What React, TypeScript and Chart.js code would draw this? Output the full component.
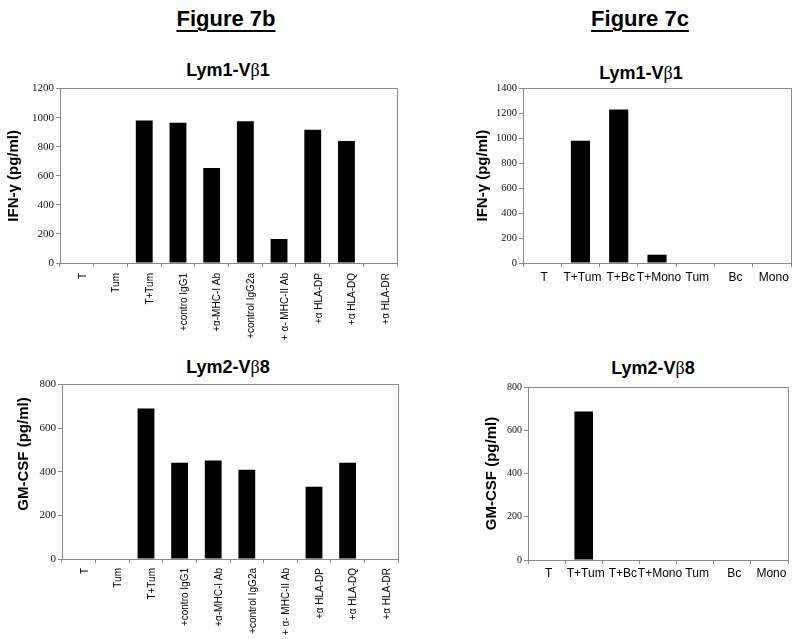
import React, { useEffect, useRef } from "react";
import { Chart, registerables } from "chart.js";

Chart.register(...registerables);

// ---- data ----
const labels7b = [
  "T",
  "Tum",
  "T+Tum",
  "+contro IgG1",
  "+α-MHC-I Ab",
  "+control IgG2a",
  "+ α- MHC-II Ab",
  "+α HLA-DP",
  "+α HLA-DQ",
  "+α HLA-DR",
];
const ifn7b = [0, 0, 981, 965, 654, 976, 165, 917, 839, 0];
const gm7b = [0, 0, 690, 441, 452, 409, 0, 331, 441, 0];

const labels7c = ["T", "T+Tum", "T+Bc", "T+Mono", "Tum", "Bc", "Mono"];
const ifn7c = [0, 979, 1230, 66, 0, 0, 0];
const gm7c = [0, 687, 0, 0, 0, 0, 0];

const yMaxIfn7b = 1200;
const yMaxIfn7c = 1400;
const yMaxGm = 800;
const yStep = 200;

const SANS = "'Liberation Sans', Arial, sans-serif";
const SERIF = "'Liberation Serif', 'Times New Roman', serif";
const AXIS = "#888888";

const framePlugin = {
  id: "frame",
  afterDraw(chart: any) {
    const { ctx, chartArea } = chart;
    const { left, top, right, bottom } = chartArea;
    const t = Math.floor(top) + 0.5;
    const r = Math.floor(right) + 0.5;
    ctx.save();
    ctx.strokeStyle = AXIS;
    ctx.lineWidth = 1;
    ctx.beginPath();
    ctx.moveTo(left, t);
    ctx.lineTo(r, t);
    ctx.lineTo(r, bottom);
    ctx.stroke();
    ctx.restore();
  },
};

type PanelProps = {
  labels: string[];
  values: number[];
  yMax: number;
  left: number;
  top: number;
  width: number;
  height: number;
  yWidth: number;
  xHeight: number;
  padTop: number;
  padRight: number;
  titlePad: number;
  yTitle: string;
  showYTitle: boolean;
  yTickSize: number;
  xTickSize: number;
  rotated: boolean;
  xPad: number;
  labelOffset: number;
};

function Panel(p: PanelProps) {
  const ref = useRef<HTMLCanvasElement>(null);
  useEffect(() => {
    const rot = p.rotated ? 90 : 0;
    const chart = new Chart(ref.current as HTMLCanvasElement, {
      type: "bar",
      data: {
        labels: p.labels,
        datasets: [
          {
            data: p.values,
            backgroundColor: "#000000",
            borderWidth: 0,
            barPercentage: 0.5,
            categoryPercentage: 1,
          },
        ],
      },
      options: {
        animation: false,
        responsive: true,
        maintainAspectRatio: false,
        layout: {
          padding: { top: p.padTop, right: p.padRight, left: 0, bottom: 0 },
        },
        plugins: {
          legend: { display: false },
          tooltip: { enabled: false },
          title: { display: false },
        },
        scales: {
          x: {
            grid: {
              display: true,
              drawOnChartArea: false,
              drawTicks: true,
              tickLength: 4,
              color: AXIS,
              offset: true,
            },
            border: { display: true, color: AXIS },
            ticks: {
              autoSkip: false,
              maxRotation: rot,
              minRotation: rot,
              color: "#000000",
              padding: p.xPad,
              labelOffset: p.labelOffset,
              font: { family: SANS, size: p.xTickSize },
            },
            afterFit: (s: any) => {
              s.height = p.xHeight;
            },
          },
          y: {
            min: 0,
            max: p.yMax,
            grid: {
              display: true,
              drawOnChartArea: false,
              drawTicks: true,
              tickLength: 4,
              color: AXIS,
            },
            border: { display: true, color: AXIS },
            ticks: {
              stepSize: yStep,
              color: "#111111",
              padding: 2,
              font: { family: SERIF, size: p.yTickSize },
              callback: (v: any) => String(v),
            },
            title: {
              display: p.showYTitle,
              text: p.yTitle,
              color: "#000000",
              font: { family: SANS, size: 15, weight: "bold" },
              padding: { top: p.titlePad, bottom: 0 },
            },
            afterFit: (s: any) => {
              s.width = p.yWidth;
            },
          },
        },
      } as any,
      plugins: [framePlugin],
    });
    return () => chart.destroy();
  }, []);
  return (
    <div
      style={{
        position: "absolute",
        left: p.left,
        top: p.top,
        width: p.width,
        height: p.height,
      }}
    >
      <canvas ref={ref} />
    </div>
  );
}

function Heading(props: {
  cx: number;
  top: number;
  size: number;
  underline?: boolean;
  children: React.ReactNode;
}) {
  return (
    <div
      style={{
        position: "absolute",
        left: props.cx - 150,
        top: props.top,
        width: 300,
        textAlign: "center",
        fontFamily: SANS,
        fontWeight: "bold",
        fontSize: props.size,
        lineHeight: `${props.size}px`,
        color: "#000",
        whiteSpace: "nowrap",
      }}
    >
      <span
        style={
          props.underline
            ? {
                textDecoration: "underline",
                textDecorationThickness: "2px",
                textUnderlineOffset: "4px",
              }
            : undefined
        }
      >
        {props.children}
      </span>
    </div>
  );
}

function VerticalTitle(props: { cx: number; cy: number; text: string }) {
  return (
    <div
      style={{
        position: "absolute",
        left: props.cx - 100,
        top: props.cy - 10,
        width: 200,
        height: 20,
        lineHeight: "20px",
        textAlign: "center",
        fontFamily: SANS,
        fontWeight: "bold",
        fontSize: 15,
        color: "#000",
        whiteSpace: "nowrap",
        transform: "rotate(-90deg)",
        transformOrigin: "50% 50%",
      }}
    >
      {props.text}
    </div>
  );
}

function Lym(props: { n: string; v: string }) {
  return (
    <>
      {"Lym" + props.n + "-V"}
      <span style={{ fontFamily: SERIF, fontWeight: "normal" }}>β</span>
      {props.v}
    </>
  );
}

export default function App() {
  return (
    <div
      style={{
        position: "absolute",
        left: 0,
        top: 0,
        width: 800,
        height: 639,
        background: "#ffffff",
        overflow: "hidden",
      }}
    >
      <Heading cx={226} top={8} size={22} underline>
        Figure 7b
      </Heading>
      <Heading cx={640} top={8} size={22} underline>
        Figure 7c
      </Heading>
      <Heading cx={228} top={61} size={18}>
        <Lym n="1" v="1" />
      </Heading>
      <Heading cx={641} top={64} size={18}>
        <Lym n="1" v="1" />
      </Heading>
      <Heading cx={228} top={358} size={18}>
        <Lym n="2" v="8" />
      </Heading>
      <Heading cx={653} top={359} size={18}>
        <Lym n="2" v="8" />
      </Heading>

      <Panel
        labels={labels7b}
        values={ifn7b}
        yMax={yMaxIfn7b}
        left={0}
        top={80}
        width={400}
        height={270}
        yWidth={60}
        xHeight={87}
        padTop={8}
        padRight={3}
        titlePad={5}
        yTitle="IFN-γ (pg/ml)"
        showYTitle={true}
        yTickSize={11}
        xTickSize={10}
        rotated={true}
        xPad={6}
        labelOffset={6}
      />
      <Panel
        labels={labels7c}
        values={ifn7c}
        yMax={yMaxIfn7c}
        left={470}
        top={80}
        width={325}
        height={220}
        yWidth={53}
        xHeight={37}
        padTop={8}
        padRight={4}
        titlePad={4}
        yTitle="IFN-γ (pg/ml)"
        showYTitle={true}
        yTickSize={10.5}
        xTickSize={12}
        rotated={false}
        xPad={3}
        labelOffset={2}
      />
      <Panel
        labels={labels7b}
        values={gm7b}
        yMax={yMaxGm}
        left={0}
        top={376}
        width={400}
        height={263}
        yWidth={62}
        xHeight={80}
        padTop={8}
        padRight={2}
        titlePad={11}
        yTitle="GM-CSF (pg/ml)"
        showYTitle={false}
        yTickSize={11}
        xTickSize={10}
        rotated={true}
        xPad={5}
        labelOffset={6}
      />
      <VerticalTitle cx={23} cy={454} text="GM-CSF (pg/ml)" />
      <Panel
        labels={labels7c}
        values={gm7c}
        yMax={yMaxGm}
        left={470}
        top={379}
        width={322}
        height={221}
        yWidth={58}
        xHeight={40}
        padTop={8}
        padRight={4}
        titlePad={13}
        yTitle="GM-CSF (pg/ml)"
        showYTitle={true}
        yTickSize={10}
        xTickSize={12}
        rotated={false}
        xPad={2}
        labelOffset={2}
      />
    </div>
  );
}
